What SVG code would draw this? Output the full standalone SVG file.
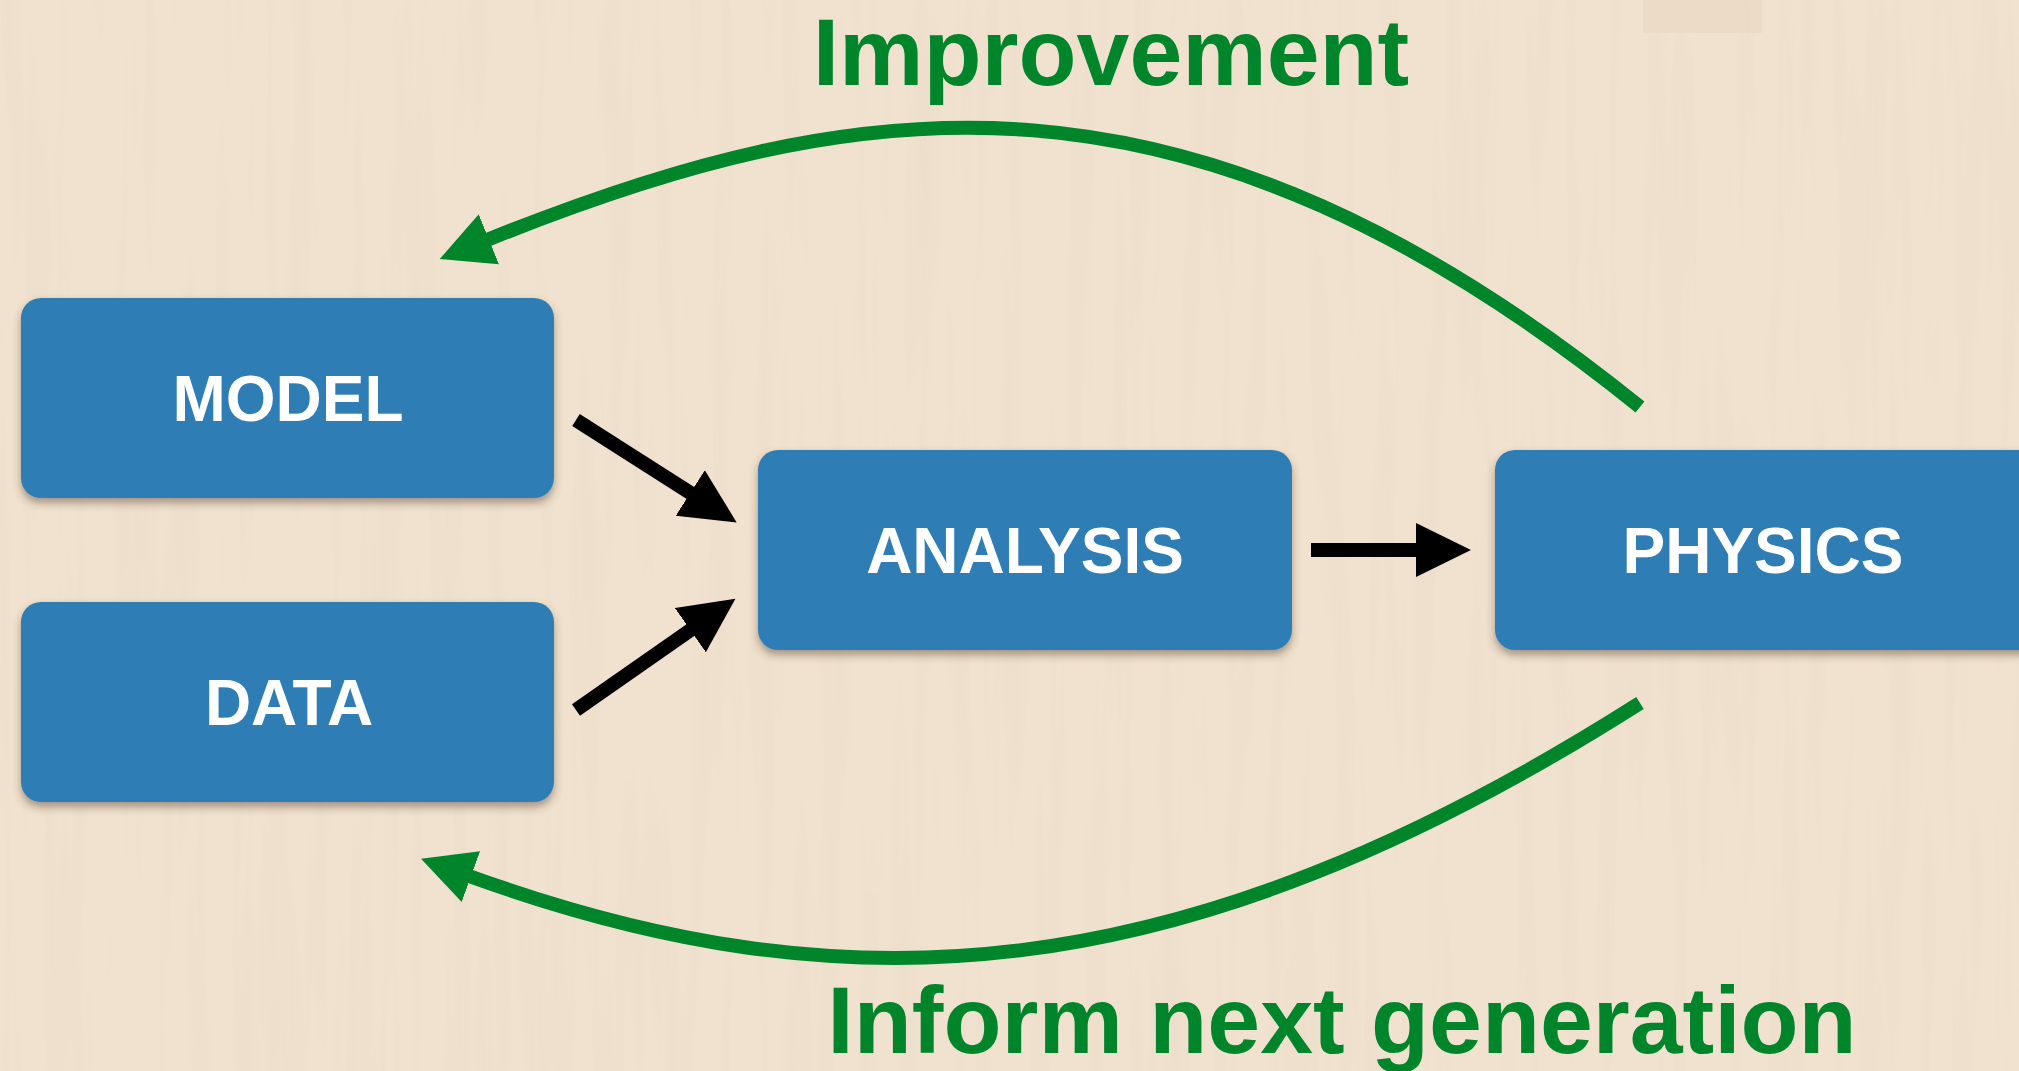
<svg xmlns="http://www.w3.org/2000/svg" width="2019" height="1071" viewBox="0 0 2019 1071">
  <defs>
    <style>
      .box { fill: #2e7db5; filter: url(#shadow); }
      .label { font-family: "Liberation Sans", Arial, Helvetica, sans-serif; font-weight: bold; font-size: 64px; fill: #ffffff; text-anchor: middle; }
      .caption { font-family: "Liberation Sans", Arial, Helvetica, sans-serif; font-weight: bold; font-size: 95px; fill: #00852b; text-anchor: middle; }
      .flow { stroke: #000000; stroke-width: 14; fill: none; }
      .loop { stroke: #00852b; stroke-width: 14; fill: none; }
    </style>
    <!-- light maple backdrop with a faint vertical grain -->
    <filter id="woodgrain" x="0" y="0" width="100%" height="100%">
      <feTurbulence type="fractalNoise" baseFrequency="0.045 0.0025" numOctaves="3" seed="7" result="noise"/>
      <feColorMatrix in="noise" type="matrix"
        values="0 0 0 0 0.80
                0 0 0 0 0.70
                0 0 0 0 0.58
                0 0 0 0.9 -0.38" result="tint"/>
      <feComposite in="tint" in2="SourceGraphic" operator="over"/>
    </filter>
    <filter id="shadow" x="-5%" y="-10%" width="110%" height="125%">
      <feDropShadow dx="0" dy="5" stdDeviation="4" flood-color="#4a3420" flood-opacity="0.45"/>
    </filter>
    <marker id="headBlack" viewBox="0 -28 56 56" refX="2" refY="0" markerWidth="56" markerHeight="56" markerUnits="userSpaceOnUse" orient="auto">
      <path d="M0,-27 L55,0 L0,27 Z" fill="#000000"/>
    </marker>
    <marker id="headGreen" viewBox="0 -28 54 56" refX="2" refY="0" markerWidth="54" markerHeight="56" markerUnits="userSpaceOnUse" orient="auto">
      <path d="M0,-27 L53,0 L0,27 Z" fill="#00852b"/>
    </marker>
  </defs>

  <!-- backdrop -->
  <rect x="0" y="0" width="2019" height="1071" fill="#f1e2cf" filter="url(#woodgrain)"/>
  <rect x="1643" y="0" width="119" height="33" fill="#e9d8c2" opacity="0.6"/>

  <!-- nodes -->
  <g id="model">
    <rect class="box" x="21" y="298" width="533" height="200" rx="20" ry="20"/>
    <text class="label" x="288" y="421">MODEL</text>
  </g>
  <g id="data">
    <rect class="box" x="21" y="602" width="533" height="200" rx="20" ry="20"/>
    <text class="label" x="289" y="725">DATA</text>
  </g>
  <g id="analysis">
    <rect class="box" x="758" y="450" width="534" height="200" rx="20" ry="20"/>
    <text class="label" x="1025" y="573">ANALYSIS</text>
  </g>
  <g id="physics">
    <rect class="box" x="1495" y="450" width="560" height="200" rx="20" ry="20"/>
    <text class="label" x="1763" y="573">PHYSICS</text>
  </g>

  <!-- captions -->
  <g id="improvement-label">
    <text class="caption" x="1111" y="85">Improvement</text>
  </g>
  <g id="inform-label">
    <text class="caption" x="1342" y="1053">Inform next generation</text>
  </g>

  <!-- connectors -->
  <g id="connectors">
    <line class="flow" x1="576" y1="420" x2="692" y2="494" marker-end="url(#headBlack)"/>
    <line class="flow" x1="576" y1="710" x2="692" y2="629" marker-end="url(#headBlack)"/>
    <line class="flow" x1="1311" y1="550" x2="1418" y2="550" marker-end="url(#headBlack)"/>
    <path class="loop" d="M1640,407 C1188,42 859,90 487,240" marker-end="url(#headGreen)"/>
    <path class="loop" d="M1640,703 C1176,998 840,1010 469,876" marker-end="url(#headGreen)"/>
  </g>
</svg>
